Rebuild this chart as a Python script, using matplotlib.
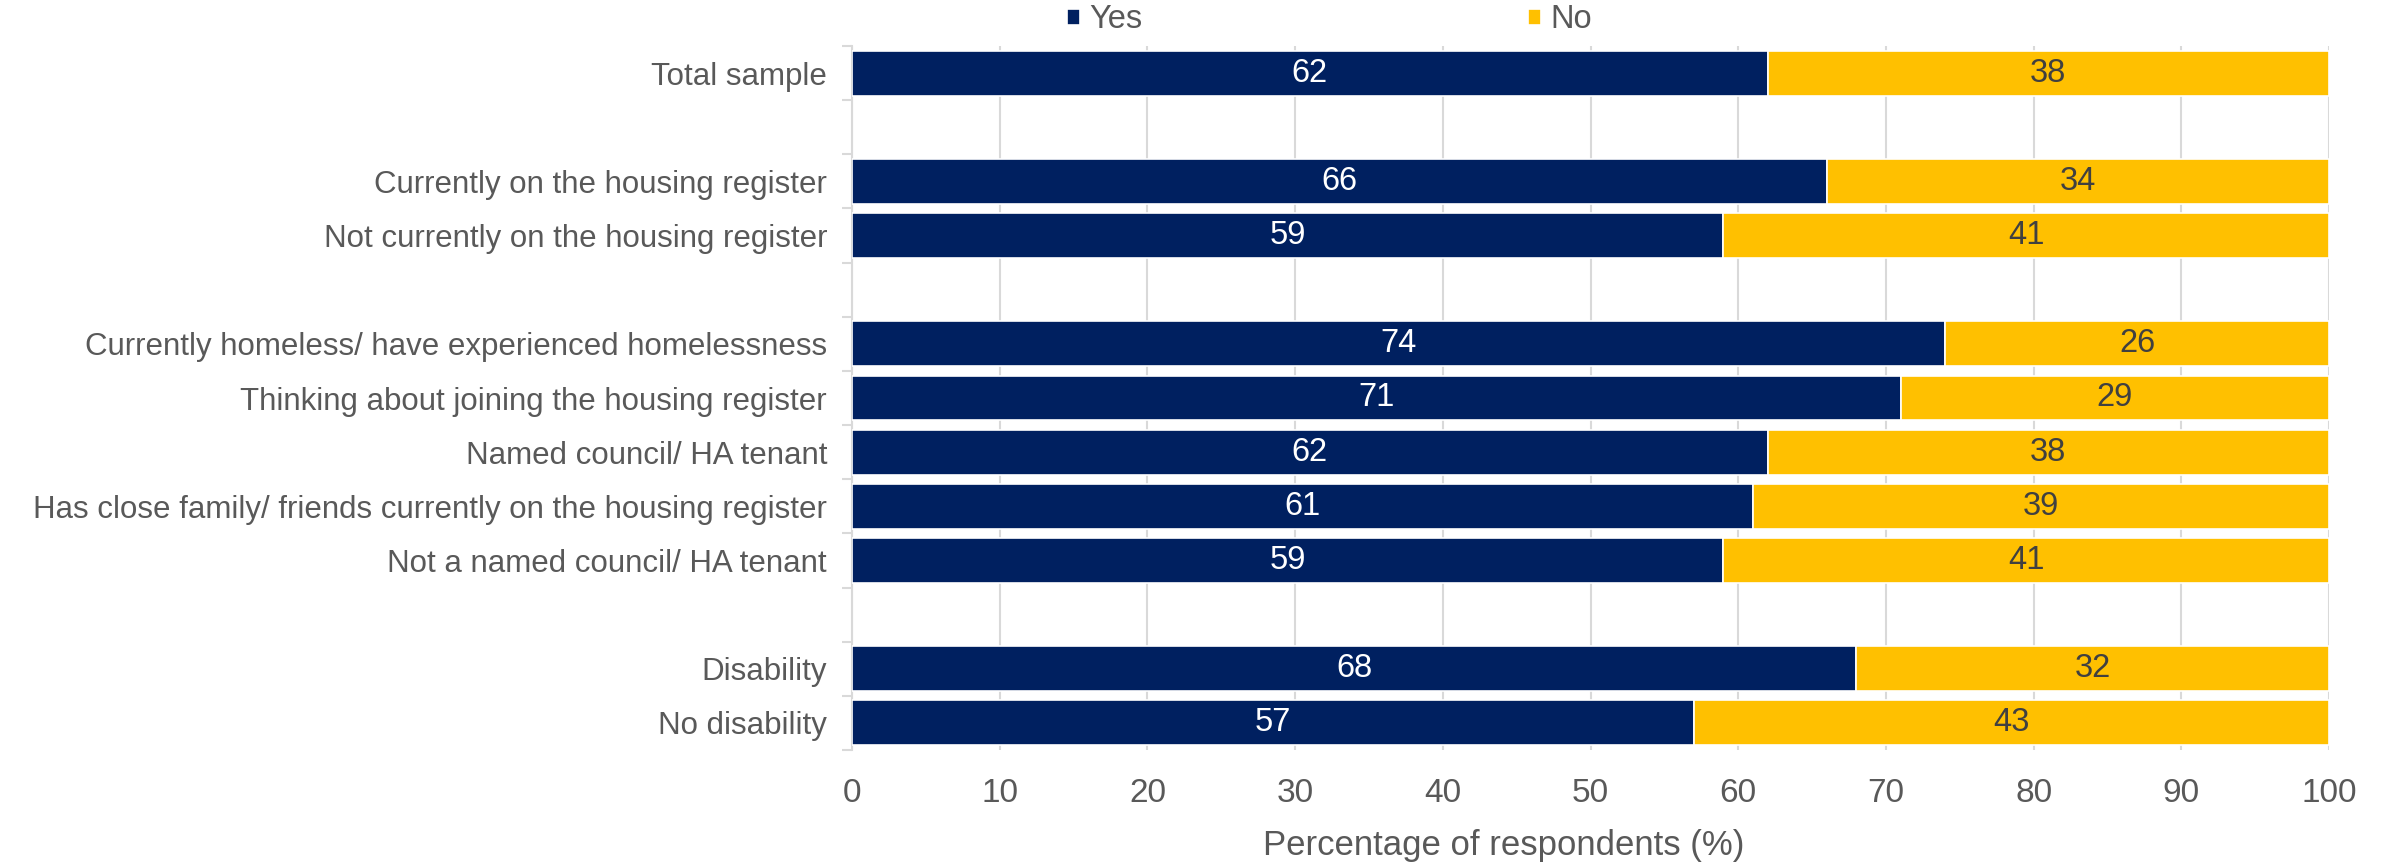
import numpy as np
import matplotlib
matplotlib.use('Agg')
import matplotlib.pyplot as plt

plt.rcParams['font.family'] = ['Liberation Sans', 'DejaVu Sans']

# rows grouped; an empty row is left between groups
groups = [
    ["Total sample"],
    ["Currently on the housing register",
     "Not currently on the housing register"],
    ["Currently homeless/ have experienced homelessness",
     "Thinking about joining the housing register",
     "Named council/ HA tenant",
     "Has close family/ friends currently on the housing register",
     "Not a named council/ HA tenant"],
    ["Disability", "No disability"],
]
yes = [62, 66, 59, 74, 71, 62, 61, 59, 68, 57]
no = [38, 34, 41, 26, 29, 38, 39, 41, 32, 43]

NAVY = "#002060"
GOLD = "#FFC000"
GREY = "#595959"

labels = []
pos = []
row = 0
for g in groups:
    for name in g:
        labels.append(name)
        pos.append(row)
        row += 1
    row += 1
n_rows = row - 1
pos = np.array(pos)

fig = plt.figure(figsize=(23.87, 8.66), dpi=100)
ax = fig.add_axes([852 / 2387, 1 - 750 / 866, (2329 - 852) / 2387, (750 - 46) / 866])

h = 0.83
b1 = ax.barh(pos, yes, height=h, color=NAVY, edgecolor='white',
             linewidth=1.2, label="Yes", zorder=3)
b2 = ax.barh(pos, no, left=yes, height=h, color=GOLD, edgecolor='white',
             linewidth=1.2, label="No", zorder=3)
ax.bar_label(b1, labels=[str(v) for v in yes], label_type='center',
             color='white', fontsize=23.5)
ax.bar_label(b2, labels=[str(v) for v in no], label_type='center',
             color='#404040', fontsize=23.5)

ax.set_ylim(n_rows - 0.5, -0.5)
ax.set_xlim(0, 100)
ax.set_yticks(pos)
ax.set_yticklabels(labels, fontsize=22.5, color=GREY)
ax.set_yticks(np.arange(-0.5, n_rows, 1.0), minor=True)
ax.tick_params(axis='y', which='major', length=0, pad=18)
ax.tick_params(axis='y', which='minor', length=7, color='#d9d9d9', width=1.5)

ax.set_xticks(np.arange(0, 101, 10))
ax.tick_params(axis='x', length=0, labelsize=24, labelcolor=GREY, pad=20)
ax.xaxis.grid(True, color='#d9d9d9', linewidth=1.5, zorder=0)
ax.set_xlabel("Percentage of respondents (%)", fontsize=25, color=GREY,
              labelpad=16)
ax.xaxis.set_label_coords(0.441, -0.112)

for side in ['top', 'right', 'bottom']:
    ax.spines[side].set_visible(False)
ax.spines['left'].set_color('#d9d9d9')
ax.spines['left'].set_linewidth(1.5)

fig.legend(handles=[b1, b2], loc='center', bbox_to_anchor=(0.557, 0.977),
           ncol=2, frameon=False, fontsize=23.5, labelcolor=GREY,
           handlelength=0.4, handleheight=0.4, handletextpad=0.3,
           columnspacing=11.8)

fig.savefig("out.png", dpi=100)
